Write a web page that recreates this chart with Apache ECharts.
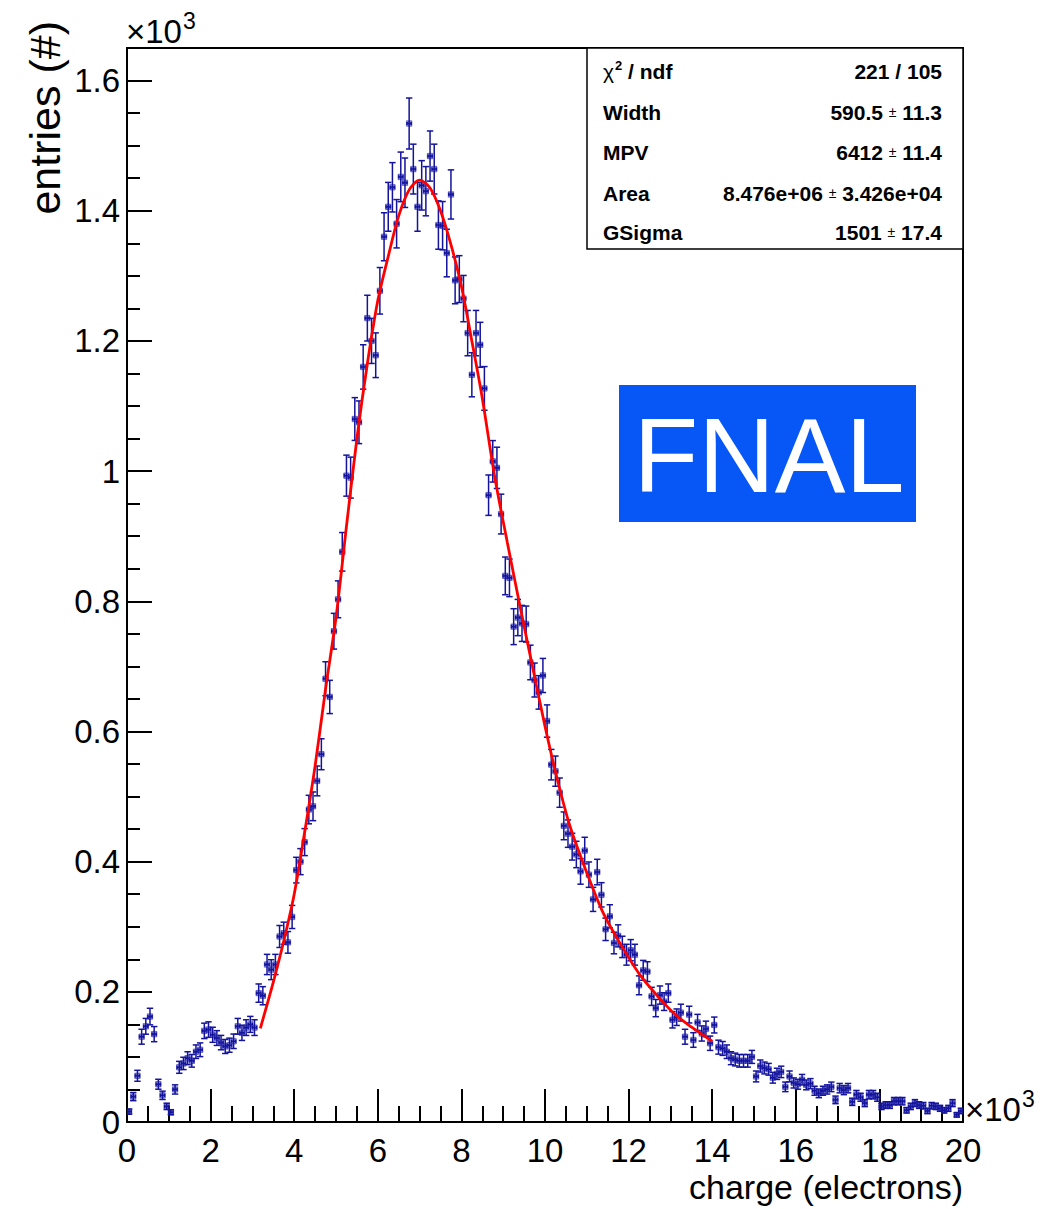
<!DOCTYPE html>
<html>
<head>
<meta charset="utf-8">
<script src="https://cdn.jsdelivr.net/npm/echarts@6/dist/echarts.min.js"></script>
<style>
html,body{margin:0;padding:0;background:#fff;}
#chart{width:1042px;height:1209px;}
</style>
</head>
<body>
<div id="chart"></div>
<script>
// ---- data (entries in units of 10^3, charge in units of 10^3 electrons) ----
const binLow = 0;
const binWidth = 0.1;
const counts = [
 0.016,0.039,0.071,0.131,0.147,0.162,0.135,0.058,0.041,0.024,
 0.015,0.050,0.084,0.090,0.098,0.094,0.108,0.111,0.140,0.142,
 0.134,0.129,0.122,0.116,0.118,0.124,0.147,0.137,0.145,0.150,
 0.145,0.198,0.194,0.242,0.234,0.242,0.285,0.290,0.276,0.315,
 0.387,0.400,0.430,0.480,0.485,0.524,0.565,0.681,0.653,0.754,
 0.803,0.876,0.993,0.990,1.080,1.075,1.160,1.235,1.200,1.178,
 1.277,1.360,1.406,1.436,1.380,1.452,1.443,1.534,1.464,1.406,
 1.439,1.430,1.484,1.464,1.378,1.377,1.335,1.425,1.293,1.295,
 1.265,1.212,1.148,1.212,1.194,1.127,0.963,1.015,1.005,0.934,
 0.839,0.836,0.761,0.775,0.766,0.765,0.706,0.679,0.660,0.686,
 0.616,0.549,0.539,0.506,0.455,0.443,0.423,0.411,0.385,0.417,
 0.380,0.342,0.384,0.349,0.296,0.316,0.275,0.286,0.269,0.257,
 0.264,0.257,0.210,0.233,0.231,0.193,0.175,0.195,0.185,0.198,
 0.157,0.161,0.168,0.131,0.165,0.126,0.153,0.136,0.143,0.121,
 0.149,0.115,0.113,0.108,0.098,0.096,0.094,0.094,0.094,0.100,
 0.070,0.086,0.083,0.081,0.068,0.074,0.077,0.054,0.070,0.060,
 0.058,0.065,0.057,0.059,0.048,0.044,0.048,0.050,0.054,0.034,
 0.052,0.049,0.052,0.031,0.042,0.038,0.029,0.042,0.042,0.038,
 0.024,0.026,0.026,0.032,0.032,0.032,0.018,0.024,0.029,0.026,
 0.025,0.017,0.025,0.024,0.021,0.018,0.021,0.029,0.011,0.017
];
// fit curve (Landau (x) Gauss)
const fitX = [3.19,3.50,3.75,4.00,4.25,4.50,4.75,5.00,5.25,5.50,5.75,6.00,6.25,6.50,6.75,7.00,7.25,7.50,7.75,8.00,8.25,8.50,8.80,9.10,9.40,9.70,10.00,10.30,10.60,11.00,11.40,11.80,12.25,12.70,13.10,13.50,14.00];
const fitY = [0.144,0.215,0.278,0.350,0.445,0.547,0.665,0.775,0.915,1.050,1.165,1.262,1.330,1.392,1.432,1.447,1.435,1.400,1.348,1.284,1.200,1.112,0.990,0.890,0.793,0.700,0.608,0.525,0.454,0.383,0.320,0.274,0.228,0.193,0.166,0.146,0.124];
const statsLabels = ['Width','MPV','Area','GSigma'];
const statsValues = ['590.5','6412','8.476e+06','1501'];
const statsErrors = ['11.3','11.4','3.426e+04','17.4'];
const chi2 = '221 / 105';

// ---- build ----
const FONT = '"Liberation Sans", Arial, Helvetica, sans-serif';
const points = counts.map((c, i) => [binLow + binWidth * (i + 0.5), c, Math.sqrt(c * 1000) / 1000]);
const fitData = fitX.map((x, i) => [x, fitY[i]]);
const Y_MAX = 1.65;

function renderPoint(params, api) {
  const x = api.value(0), y = api.value(1), e = api.value(2);
  const p = api.coord([x, y]);
  const pt = api.coord([x, y + e]);
  const pb = api.coord([x, Math.max(y - e, 0)]);
  const pl = api.coord([x - binWidth / 2, y]);
  const pr = api.coord([x + binWidth / 2, y]);
  const col = '#13139c';
  const ls = {stroke: col, lineWidth: 1.5};
  const cap = 3.2;
  return {
    type: 'group',
    children: [
      {type: 'rect', shape: {x: p[0] - 2.7, y: p[1] - 2.7, width: 5.4, height: 5.4},
        style: {fill: 'rgba(50,50,190,0.55)', stroke: 'rgba(40,40,170,0.7)', lineWidth: 0.8}},
      {type: 'line', shape: {x1: p[0], y1: pt[1], x2: p[0], y2: pb[1]}, style: ls},
      {type: 'line', shape: {x1: p[0] - cap, y1: pt[1], x2: p[0] + cap, y2: pt[1]}, style: ls},
      {type: 'line', shape: {x1: p[0] - cap, y1: pb[1], x2: p[0] + cap, y2: pb[1]}, style: ls},
      {type: 'line', shape: {x1: pl[0], y1: p[1], x2: pr[0], y2: p[1]}, style: ls},
      {type: 'line', shape: {x1: pl[0], y1: p[1] - 1.6, x2: pl[0], y2: p[1] + 1.6}, style: ls},
      {type: 'line', shape: {x1: pr[0], y1: p[1] - 1.6, x2: pr[0], y2: p[1] + 1.6}, style: ls}
    ]
  };
}

const chart = echarts.init(document.getElementById('chart'), null, {renderer: 'svg'});

const bold = 'bold 21px ' + FONT;
const rowY = [71, 112, 152, 193, 232];
const stats = [];
stats.push({type: 'rect', z: 10, shape: {x: 587, y: 48, width: 376, height: 201},
  style: {fill: '#fff', stroke: '#000', lineWidth: 1.5}});
stats.push({type: 'text', z: 11, x: 603, y: rowY[0], style: {
  text: '{g|χ}{s|2}{b| / ndf}', textVerticalAlign: 'middle',
  rich: {g: {font: '21px ' + FONT, fill: '#000'},
         s: {font: 'bold 13px ' + FONT, fill: '#000', padding: [0, 0, 11, 1]},
         b: {font: bold, fill: '#000'}}}});
stats.push({type: 'text', z: 11, x: 942, y: rowY[0], style: {
  text: chi2, textAlign: 'right', textVerticalAlign: 'middle', font: bold, fill: '#000'}});
statsLabels.forEach((lab, i) => {
  stats.push({type: 'text', z: 11, x: 603, y: rowY[i + 1], style: {
    text: lab, textVerticalAlign: 'middle', font: bold, fill: '#000'}});
  stats.push({type: 'text', z: 11, x: 942, y: rowY[i + 1], style: {
    text: '{b|' + statsValues[i] + ' }{p|±}{b| ' + statsErrors[i] + '}',
    textAlign: 'right', textVerticalAlign: 'middle',
    rich: {b: {font: bold, fill: '#000'}, p: {font: '14px ' + FONT, fill: '#000'}}}});
});

const option = {
  animation: false,
  backgroundColor: '#fff',
  grid: {left: 127, right: 79, top: 48, bottom: 87, show: true, borderColor: '#000', borderWidth: 2, backgroundColor: 'transparent'},
  xAxis: {
    type: 'value', min: 0, max: 20, interval: 2,
    axisLine: {show: true, onZero: false, lineStyle: {color: '#000', width: 2}},
    axisTick: {show: true, inside: true, length: 33, lineStyle: {color: '#000', width: 2}},
    minorTick: {show: true, splitNumber: 4, length: 16, lineStyle: {color: '#000', width: 2}},
    splitLine: {show: false},
    axisLabel: {color: '#000', fontSize: 33, fontFamily: FONT, margin: 12,
      formatter: v => String(v)},
    name: 'charge (electrons)', nameLocation: 'end', nameGap: 0,
    nameTextStyle: {color: '#000', fontSize: 34, fontFamily: FONT, align: 'right', verticalAlign: 'top', padding: [48, 0, 0, 0]}
  },
  yAxis: [{
    type: 'value', min: 0, max: Y_MAX, interval: 0.2,
    axisLine: {show: true, onZero: false, lineStyle: {color: '#000', width: 2}},
    axisTick: {show: true, inside: true, length: 25, lineStyle: {color: '#000', width: 2}},
    minorTick: {show: false},
    splitLine: {show: false},
    axisLabel: {color: '#000', fontSize: 33, fontFamily: FONT, margin: 7,
      formatter: v => {
        const k = Math.round(v / 0.2);
        if (Math.abs(v - k * 0.2) > 1e-6) return '';
        return String(Math.round(v * 10) / 10);
      }}
  }, {
    type: 'value', min: 0, max: Y_MAX, interval: 0.05, position: 'left', offset: 0,
    axisLine: {show: false},
    axisTick: {show: true, inside: true, length: 13, lineStyle: {color: '#000', width: 2}},
    axisLabel: {show: false},
    splitLine: {show: false}
  }],
  graphic: [
    {type: 'text', x: 45, y: 21, rotation: Math.PI / 2, style: {
      text: 'entries (#)', textAlign: 'right', textVerticalAlign: 'middle',
      font: '43px ' + FONT, fill: '#000'}},
    {type: 'text', x: 126, y: 31, style: {
      text: '{a|×10}{s|3}', textVerticalAlign: 'middle',
      rich: {a: {font: '33px ' + FONT, fill: '#000'},
             s: {font: '23px ' + FONT, fill: '#000', padding: [0, 0, 21, 1]}}}},
    {type: 'text', x: 965, y: 1109, style: {
      text: '{a|×10}{s|3}', textVerticalAlign: 'middle',
      rich: {a: {font: '33px ' + FONT, fill: '#000'},
             s: {font: '23px ' + FONT, fill: '#000', padding: [0, 0, 21, 1]}}}},
    {type: 'group', children: stats},
    {type: 'rect', z: 10, shape: {x: 619, y: 385, width: 297, height: 137},
      style: {fill: '#0757f7'}},
    {type: 'text', x: 769, y: 455, z: 11, style: {
      text: 'FNAL', textAlign: 'center', textVerticalAlign: 'middle',
      font: '106px ' + FONT, fill: '#fff'}}
  ],
  series: [
    {type: 'custom', name: 'data', renderItem: renderPoint, data: points,
      encode: {x: 0, y: 1}, clip: true, z: 3},
    {type: 'line', name: 'fit', data: fitData, smooth: 0.3, showSymbol: false,
      lineStyle: {color: '#ff0000', width: 2.8}, z: 4}
  ]
};
chart.setOption(option);
</script>
</body>
</html>
